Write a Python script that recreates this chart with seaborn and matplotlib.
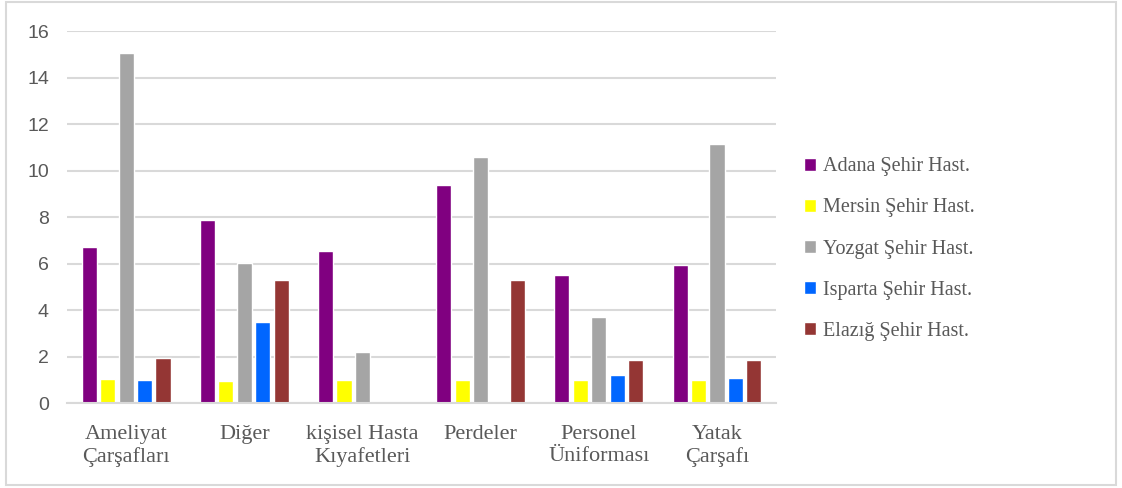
import matplotlib
matplotlib.use("Agg")
import matplotlib.pyplot as plt
import seaborn as sns
import pandas as pd
from matplotlib.patches import Rectangle

categories = ["Ameliyat\nÇarşafları", "Diğer", "kişisel Hasta\nKıyafetleri",
              "Perdeler", "Personel\nÜniforması", "Yatak\nÇarşafı"]
series_names = ["Adana Şehir Hast.", "Mersin Şehir Hast.", "Yozgat Şehir Hast.",
                "Isparta Şehir Hast.", "Elazığ Şehir Hast."]
adana = [6.7, 7.88, 6.56, 9.38, 5.5, 5.94]
mersin = [1.03, 0.97, 1.0, 1.0, 1.0, 1.0]
yozgat = [15.07, 6.02, 2.19, 10.6, 3.71, 11.13]
isparta = [1.0, 3.5, 0.0, 0.0, 1.2, 1.09]
elazig = [1.96, 5.3, 0.0, 5.3, 1.86, 1.86]
colors = ["#800080", "#ffff00", "#a5a5a5", "#0066ff", "#943634"]
yticks = [0, 2, 4, 6, 8, 10, 12, 14, 16]

rows = []
for name, vals in zip(series_names, [adana, mersin, yozgat, isparta, elazig]):
    for c, v in zip(categories, vals):
        rows.append({"cat": c, "series": name, "value": v})
df = pd.DataFrame(rows)

sns.set_theme(style="white")
fig = plt.figure(figsize=(11.22, 4.88), dpi=100)
ax = fig.add_axes([0.0597, 0.174, 0.632, 0.762])

sns.barplot(data=df, x="cat", y="value", hue="series", order=categories,
            hue_order=series_names, palette=colors, width=0.78, gap=0.18,
            saturation=1, ax=ax, legend=True)

ax.set_xlim(-0.5, 5.5)
ax.set_ylim(0, 16)
ax.set_yticks(yticks)
ax.set_xlabel("")
ax.set_ylabel("")
ax.grid(axis="y", color="#d9d9d9", linewidth=1.5)
ax.set_axisbelow(True)
for s in ["top", "right", "left"]:
    ax.spines[s].set_visible(False)
ax.spines["bottom"].set_color("#d9d9d9")
ax.spines["bottom"].set_linewidth(1.5)
ax.tick_params(axis="both", length=0)
ax.tick_params(axis="y", pad=13)
ax.tick_params(axis="x", pad=16)
for lbl in ax.get_yticklabels():
    lbl.set_fontfamily("Liberation Sans")
    lbl.set_fontsize(14)
    lbl.set_color("#595959")
for lbl in ax.get_xticklabels():
    lbl.set_fontfamily("Liberation Serif")
    lbl.set_fontsize(16)
    lbl.set_color("#595959")
    lbl.set_linespacing(1.2)

handles, labels = ax.get_legend_handles_labels()
ax.legend(handles, labels, loc="center left", bbox_to_anchor=(1.014, 0.414),
          frameon=False, handlelength=0.6, handleheight=0.6, handletextpad=0.35,
          labelspacing=1.1, prop={"family": "Liberation Serif", "size": 14.5},
          labelcolor="#595959")

fig.patches.append(Rectangle((0.005, 0.006), 0.99, 0.99, transform=fig.transFigure,
                             fill=False, edgecolor="#d9d9d9", linewidth=1.5))

fig.savefig("out.png", dpi=100)
